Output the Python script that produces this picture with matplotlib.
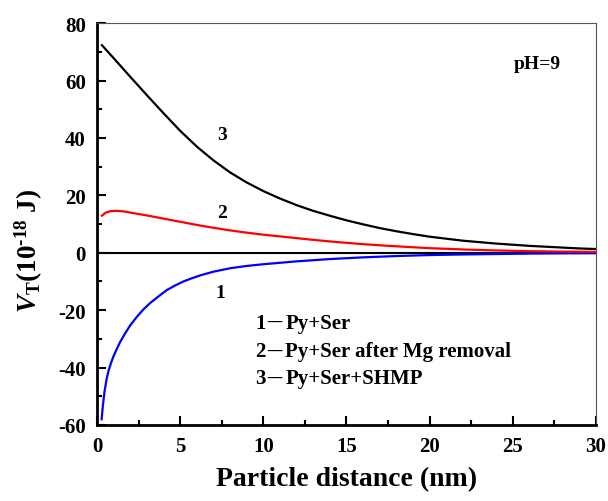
import matplotlib
matplotlib.use("Agg")
import matplotlib.pyplot as plt
from matplotlib.ticker import MultipleLocator

plt.rcParams["font.family"] = ["Liberation Serif", "Noto Sans CJK SC"]
plt.rcParams["font.weight"] = "bold"
plt.rcParams["axes.unicode_minus"] = False
plt.rcParams["mathtext.fontset"] = "custom"
plt.rcParams["mathtext.rm"] = "Liberation Serif"
plt.rcParams["mathtext.it"] = "Liberation Serif:italic:bold"
plt.rcParams["mathtext.bf"] = "Liberation Serif:bold"

# curve 1: Py+Ser
x1 = [0.28, 0.35, 0.45, 0.58, 0.7, 0.85, 1.0, 1.2, 1.4, 1.7, 2.0, 2.4, 2.8, 3.2, 3.7,
      4.2, 4.7, 5.2, 5.7, 6.2, 7, 8, 9, 10, 11, 12, 13, 14, 16, 18, 20, 22, 24, 26,
      28, 30]
v1 = [-58, -53.5, -48.5, -44, -41, -38.3, -36, -33.4, -31, -28, -25.3, -22.3, -19.7,
      -17.5, -15.2, -13.0, -11.4, -10.0, -8.9, -7.9, -6.6, -5.4, -4.6, -4.0, -3.5,
      -3.0, -2.6, -2.2, -1.6, -1.15, -0.8, -0.6, -0.45, -0.3, -0.2, -0.15]
# curve 2: Py+Ser after Mg removal
x2 = [0.3, 0.5, 0.8, 1.2, 1.6, 2, 3, 4, 5, 6, 7, 8, 9, 10, 11, 12, 13, 14, 15, 16,
      17, 18, 20, 22, 24, 26, 28, 30]
v2 = [12.9, 13.9, 14.5, 14.6, 14.4, 14.0, 13.0, 11.9, 10.8, 9.7, 8.7, 7.8, 7.0, 6.3,
      5.7, 5.1, 4.5, 3.95, 3.45, 3.0, 2.6, 2.25, 1.6, 1.15, 0.8, 0.55, 0.4, 0.3]
# curve 3: Py+Ser+SHMP
x3 = [0.3, 1, 2, 3, 4, 5, 6, 7, 8, 9, 10, 11, 12, 13, 14, 15, 16, 17, 18, 19, 20,
      21, 22, 23, 24, 25, 26, 27, 28, 29, 30]
v3 = [72.3, 67.8, 61.3, 54.9, 48.6, 42.5, 37.0, 32.2, 28.0, 24.5, 21.5, 18.9, 16.6,
      14.6, 12.9, 11.3, 9.9, 8.6, 7.5, 6.5, 5.6, 4.9, 4.2, 3.7, 3.2, 2.8, 2.4, 2.1,
      1.8, 1.5, 1.3]

legend_nums = ["1", "2", "3"]
legend_names = ["Py+Ser", "Py+Ser after Mg removal", "Py+Ser+SHMP"]

fig = plt.figure(figsize=(6.08, 5.02), dpi=100)
ax = fig.add_axes([0.1595, 0.1514, 0.8205, 0.8006])

ax.axhline(0, color="black", lw=1.5, zorder=1)
ax.plot(x1, v1, color="#0000ff", lw=1.6)
ax.plot(x2, v2, color="#ff0000", lw=1.6)
ax.plot(x3, v3, color="black", lw=1.6)

ax.set_xlim(0, 30)
ax.set_ylim(-60, 80)
ax.xaxis.set_major_locator(MultipleLocator(5))
ax.xaxis.set_minor_locator(MultipleLocator(2.5))
ax.yaxis.set_major_locator(MultipleLocator(20))
ax.yaxis.set_minor_locator(MultipleLocator(10))
ax.tick_params(which="both", direction="in", top=False, right=False, width=1.5)
ax.tick_params(which="major", length=6.5, labelsize=15, pad=8)
ax.tick_params(which="minor", length=3.5)
for lab in ax.get_xticklabels() + ax.get_yticklabels():
    lab.set_fontweight("bold")

for s in ("left", "bottom"):
    ax.spines[s].set_linewidth(2)
for s in ("top", "right"):
    ax.spines[s].set_linewidth(0.8)
    ax.spines[s].set_color("#555555")

ax.set_xlabel("Particle distance (nm)", fontsize=20, fontweight="bold", labelpad=7)
fig.text(0.048, 0.50, r"$\it{V}_{\rm{T}}$(10$^{\text{-18}}$ J)", rotation=90,
         fontsize=19.5, ha="center", va="center")

ax.text(7.5, 41.3, "3", fontsize=14, fontweight="bold", ha="center", va="center")
ax.text(7.5, 14.0, "2", fontsize=14, fontweight="bold", ha="center", va="center")
ax.text(7.4, -14.0, "1", fontsize=14, fontweight="bold", ha="center", va="center")
ax.text(26.5, 66.0, "pH=9", fontsize=14, fontweight="bold", ha="center", va="center")

ys = [-24.3, -34.2, -43.6]
for num, name, yy in zip(legend_nums, legend_names, ys):
    ax.annotate(num, (9.5, yy), fontsize=15, fontweight="bold", ha="left", va="center")
    ax.annotate("\u4e00", (9.5, yy), xytext=(8.0, 0), textcoords="offset points",
                family=["Noto Sans CJK SC"], fontsize=11.5, fontweight="normal",
                ha="left", va="center")
    ax.annotate(name, (9.5, yy), xytext=(21.8, 0), textcoords="offset points",
                fontsize=15, fontweight="bold", ha="left", va="center")

fig.savefig("out.png", dpi=100, facecolor="white")
